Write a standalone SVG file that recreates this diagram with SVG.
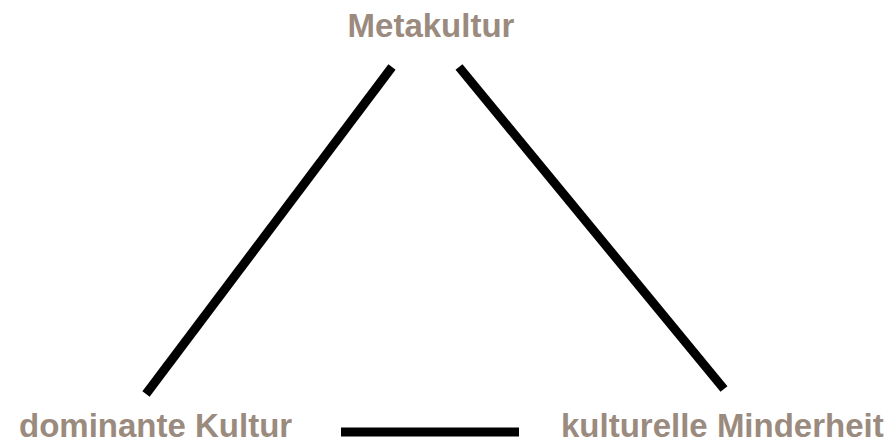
<svg xmlns="http://www.w3.org/2000/svg" width="892" height="444" viewBox="0 0 892 444">
<style>
.lbl{font-family:"Liberation Sans",Arial,sans-serif;font-weight:bold;font-size:33px;fill:#9a8b7e}
.edge{stroke:#000;stroke-width:9;fill:none}
</style>
<rect width="892" height="444" fill="#fff"/>
<g id="connectors">
<line class="edge" x1="146" y1="394" x2="392" y2="67"/>
<line class="edge" x1="459" y1="67" x2="724" y2="389"/>
<line class="edge" x1="341" y1="432" x2="519" y2="432" stroke-width="10"/>
</g>
<g id="metakultur"><text class="lbl" x="431" y="37" text-anchor="middle">Metakultur</text></g>
<g id="dominante"><text class="lbl" x="19" y="436.5">dominante Kultur</text></g>
<g id="minderheit"><text class="lbl" x="561" y="436.5">kulturelle Minderheit</text></g>
</svg>
